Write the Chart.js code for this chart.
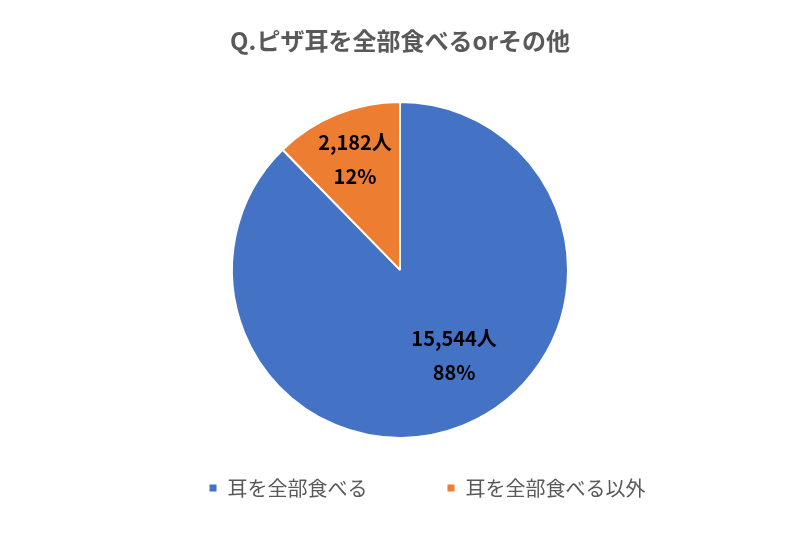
<!DOCTYPE html>
<html>
<head>
<meta charset="utf-8">
<script src="https://cdn.jsdelivr.net/npm/chart.js@4/dist/chart.umd.min.js"></script>
<style>
  body { margin: 0; background: #fff; }
  #wrap { width: 800px; height: 533px; }
</style>
</head>
<body>
<div id="wrap"><canvas id="pizzaChart"></canvas></div>
<script>
const categories = ['耳を全部食べる', '耳を全部食べる以外'];
const counts = [15544, 2182];
const percents = ['88%', '12%'];
const colors = ['#4472C4', '#ED7D31'];

const FONT = '"Noto Sans CJK JP", "Noto Sans", sans-serif';

// data labels drawn inside each slice (Excel "best fit"-ish placement)
const sliceLabels = {
  id: 'sliceLabels',
  afterLayout(chart, args, opts) {
    // the original legend sits a bit right of centre
    chart.legend.left += opts.legendShift;
    chart.legend.right += opts.legendShift;
  },
  afterDatasetsDraw(chart, args, opts) {
    const ctx = chart.ctx;
    const meta = chart.getDatasetMeta(0);
    ctx.save();
    ctx.font = 'bold 20px ' + FONT;
    ctx.fillStyle = '#000';
    ctx.textAlign = 'center';
    ctx.textBaseline = 'middle';
    meta.data.forEach((arc, i) => {
      const p = arc.getProps(['x', 'y', 'startAngle', 'endAngle', 'outerRadius'], true);
      const mid = (p.startAngle + p.endAngle) / 2 + opts.shift[i];
      const r = p.outerRadius * opts.radius[i];
      const x = p.x + Math.cos(mid) * r;
      const y = p.y + Math.sin(mid) * r;
      ctx.fillText(counts[i].toLocaleString('en-US') + '人', x, y - 17);
      ctx.fillText(percents[i], x, y + 17);
    });
    ctx.restore();
  }
};

const ctx = document.getElementById('pizzaChart').getContext('2d');
const pizzaChart = new Chart(ctx, {
  type: 'pie',
  data: {
    labels: categories,
    datasets: [{
      data: counts,
      backgroundColor: colors,
      borderColor: '#fff',
      borderWidth: 2,
      radius: 168
    }]
  },
  options: {
    responsive: true,
    maintainAspectRatio: false,
    animation: false,
    layout: { padding: { bottom: 25 } },
    plugins: {
      title: {
        display: true,
        text: 'Q.ピザ耳を全部食べるorその他',
        color: '#595959',
        font: { family: FONT, size: 24, weight: 'bold' },
        padding: { top: 26, bottom: 26 }
      },
      legend: {
        position: 'bottom',
        labels: {
          color: '#595959',
          font: { family: FONT, size: 20 },
          boxWidth: 9,
          boxHeight: 9,
          padding: 19,
          generateLabels(chart) {
            const items = Chart.overrides.pie.plugins.legend.labels.generateLabels(chart);
            // wider gap after the first entry, like the original
            items[0].text = items[0].text + '\u3000\u3000\u3000';
            return items;
          }
        }
      },
      tooltip: { enabled: false },
      sliceLabels: { radius: [0.6, 0.71], shift: [-0.18, 0], legendShift: 27 }
    }
  },
  plugins: [sliceLabels]
});
</script>
</body>
</html>
